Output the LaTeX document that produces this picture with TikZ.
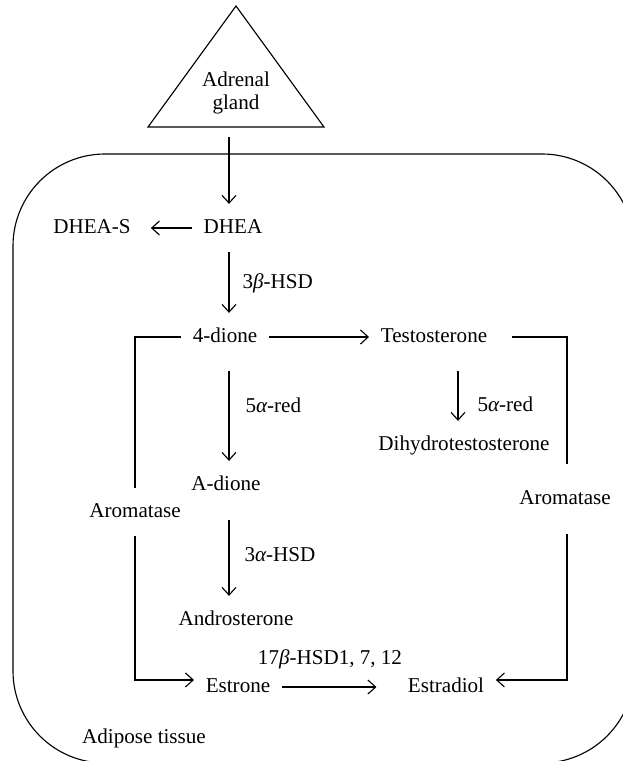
\documentclass[tikz,border=0pt]{standalone}
\usepackage{fontspec}
\setmainfont{Liberation Serif}
\usepackage{tikz}
\usetikzlibrary{arrows.meta, positioning, calc}
\newcommand{\figfont}{\fontsize{15}{17}\selectfont}

\begin{document}
\begin{tikzpicture}[x=0.025cm, y=-0.025cm, line width=0.8pt,
    chem/.style={font=\figfont, inner xsep=8pt, inner ysep=10pt, text height=10.5pt, text depth=3pt},
    lbl/.style={font=\figfont, inner sep=0pt, anchor=west},
    conv/.style={-{Straight Barb[length=5.5pt, width=10pt]}}]
  \useasboundingbox (0,0) rectangle (623,761);

  % Adipose tissue frame
  \draw[rounded corners=2.3cm] (13,154) rectangle (634,763);
  \node[font=\figfont, inner sep=0pt] (adipose) at (144,738) {Adipose tissue};

  % Adrenal gland
  \draw (236,6) -- (324,127) -- (148,127) -- cycle;
  \node[font=\figfont, align=center, inner sep=0pt] (adrenal) at (236,93) {Adrenal\\gland};
  \coordinate (gland) at (229,137);

  % Steroids
  \node[chem] (dheas) at (92,228) {DHEA-S};
  \node[chem] (dhea) at (233,228) {DHEA};
  \node[chem] (dione) at (225,337) {4-dione};
  \node[chem] (testo) at (434,337) {Testosterone};
  \node[chem] (adione) at (226,485) {A-dione};
  \node[chem] (dht) at (464,445) {Dihydrotestosterone};
  \node[chem] (andro) at (236,620) {Androsterone};
  \node[chem] (estrone) at (238,687) {Estrone};
  \node[chem] (estradiol) at (446,687) {Estradiol};
  \node[chem] (aromL) at (135,512) {Aromatase};
  \node[chem] (aromR) at (565,499) {Aromatase};

  % Enzymes
  \node[lbl] (hsdb) at (242,283) {3{\itshape β}-HSD};
  \node[lbl] (redA) at (245,405) {5{\itshape α}-red};
  \node[lbl] (redB) at (477,404) {5{\itshape α}-red};
  \node[lbl] (hsda) at (244,555) {3{\itshape α}-HSD};
  \node[font=\figfont, inner sep=0pt] (hsd17) at (330,659) {17{\itshape β}-HSD1, 7, 12};

  % Conversions
  \draw[conv] (gland) -- (gland |- dhea.north);
  \draw[conv, shorten >=6pt] (dhea.west) -- (dheas.east);
  \draw[conv] (dhea.south -| gland) -- (dione.north -| gland);
  \draw[conv, shorten <=7pt] (dione.south -| gland) -- (adione.north -| gland);
  \draw[conv, shorten <=8pt] (adione.south -| gland) -- (andro.north -| gland);
  \draw[conv] (dione.east) -- (testo.west);
  \draw[conv, shorten <=7pt] (testo.south -| 458,0) -- (dht.north -| 458,0);
  \draw (dione.west) -| (aromL.north);
  \draw[conv] (aromL.south) |- ([yshift=5pt]estrone.west);
  \draw[shorten <=9pt, shorten >=8pt] (testo.east) -| (aromR.north -| 567,0);
  \draw[conv, shorten <=8pt] (aromR.south -| 567,0) |- ([yshift=5pt]estradiol.east);
  \draw[conv, shorten >=14pt] (estrone.east) -- (estradiol.west);
\end{tikzpicture}
\end{document}
